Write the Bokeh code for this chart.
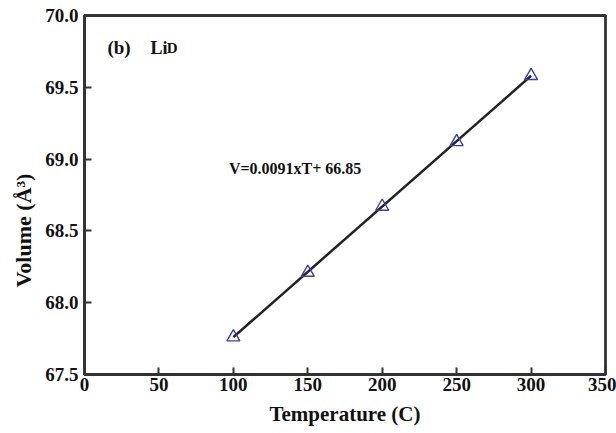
from bokeh.plotting import figure
from bokeh.models import FixedTicker, PrintfTickFormatter, Label, Range1d, Title
from bokeh.embed import file_html
from bokeh.resources import INLINE

temperature = [100, 150, 200, 250, 300]
volume = [67.76, 68.21, 68.67, 69.12, 69.58]
slope = 0.0091
intercept = 66.85
fit_x = [100, 300]
fit_y = [slope * t + intercept for t in fit_x]
x_ticks = [0, 50, 100, 150, 200, 250, 300, 350]
y_ticks = [67.5, 68.0, 68.5, 69.0, 69.5, 70.0]

FONT = "Liberation Serif"
FRAME = "#333333"
TXT = "#111111"

p = figure(width=616, height=433, output_backend="svg", toolbar_location=None,
           x_range=Range1d(0, 350), y_range=Range1d(67.5, 70.0))
p.min_border_left = 84
p.min_border_right = 11
p.min_border_top = 15
p.min_border_bottom = 59
p.background_fill_color = "white"
p.border_fill_color = "white"
p.grid.visible = False
p.outline_line_color = FRAME
p.outline_line_width = 2.8

p.line(fit_x, fit_y, line_color="#222222", line_width=2.5)
p.scatter(temperature, volume, marker="triangle", size=13, fill_color=None,
          line_color="#3d3da8", line_width=1.4)

for ax in (p.xaxis[0], p.yaxis[0]):
    ax.axis_line_color = FRAME
    ax.axis_line_width = 2.8
    ax.major_tick_in = 7
    ax.major_tick_out = 0
    ax.major_tick_line_color = FRAME
    ax.major_tick_line_width = 2
    ax.minor_tick_line_color = None
    ax.major_label_text_font = FONT
    ax.major_label_text_font_style = "bold"
    ax.major_label_text_font_size = "19px"
    ax.major_label_text_color = TXT
    ax.axis_label_text_font = FONT
    ax.axis_label_text_font_style = "bold"
    ax.axis_label_text_font_size = "21px"
    ax.axis_label_text_color = TXT

p.xaxis.ticker = FixedTicker(ticks=x_ticks)
p.yaxis.ticker = FixedTicker(ticks=y_ticks)
p.yaxis.formatter = PrintfTickFormatter(format="%.1f")
p.xaxis.axis_label = "Temperature (C)"
p.xaxis.major_label_standoff = 3
p.yaxis.major_label_standoff = 6
p.xaxis.axis_label_standoff = 8

# y axis title, sitting lower than the frame centre as in the reference
p.add_layout(Title(text="Volume (Å³)", align="left", offset=87,
                   text_font=FONT, text_font_style="bold", text_font_size="22px",
                   text_color=TXT, standoff=14), "left")

p.add_layout(Label(x=15.4, y=69.775, text="(b)", text_font=FONT, text_font_style="bold",
                   text_font_size="19px", text_color=TXT, text_baseline="alphabetic"))
p.add_layout(Label(x=44.3, y=69.775, text="Li", text_font=FONT, text_font_style="bold",
                   text_font_size="18px", text_color=TXT, text_baseline="alphabetic"))
p.add_layout(Label(x=55.3, y=69.775, text="D", text_font=FONT, text_font_style="bold",
                   text_font_size="15px", text_color=TXT, text_baseline="alphabetic"))
p.add_layout(Label(x=97, y=68.933, text="V=0.0091xT+ 66.85", text_font=FONT,
                   text_font_style="bold", text_font_size="16px", text_color=TXT,
                   text_baseline="alphabetic"))

open("out.html", "w").write(file_html(p, INLINE))
